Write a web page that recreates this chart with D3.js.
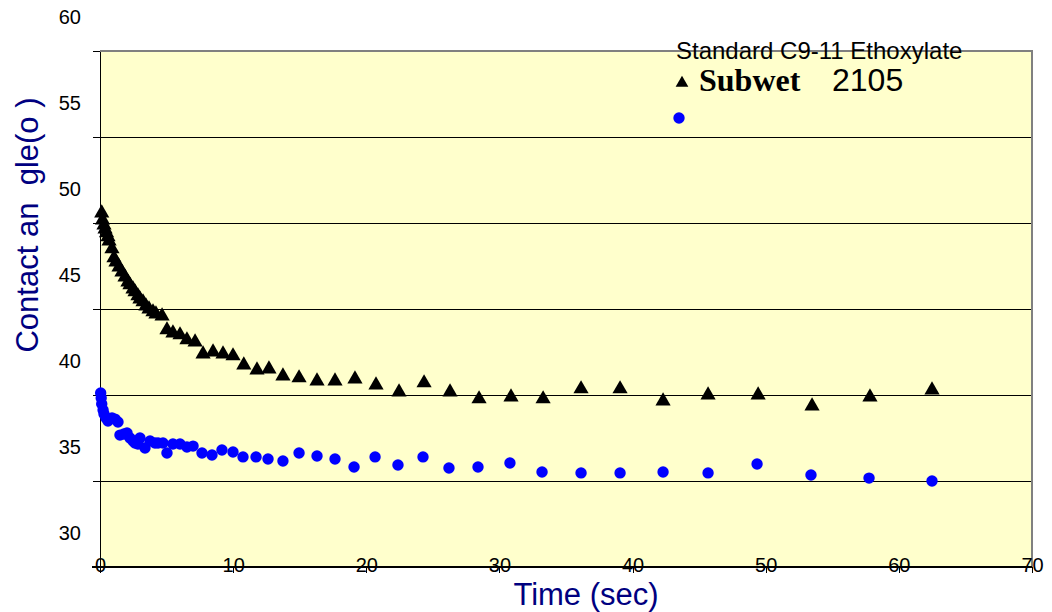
<!DOCTYPE html>
<html>
<head>
<meta charset="utf-8">
<script src="https://cdn.jsdelivr.net/npm/d3@7"></script>
<style>
  html, body { margin: 0; padding: 0; background: #fff; }
  svg { display: block; font-family: "Liberation Sans", Arial, sans-serif; }
</style>
</head>
<body>
<div id="chart"></div>
<script>
// Contact angle vs time, two surfactants.
var subwetTime = [0.13, 0.19, 0.3, 0.38, 0.49, 0.6, 0.68, 0.9, 1.05, 1.2, 1.43, 1.65, 1.88,
  2.1, 2.25, 2.48, 2.63, 2.85, 3.0, 3.23, 3.45, 3.68, 3.98, 4.2, 4.66, 5.03, 5.48, 6.01,
  6.53, 7.14, 7.74, 8.49, 9.24, 9.99, 10.8, 11.79, 12.69, 13.74, 14.95, 16.3, 17.65,
  19.15, 20.73, 22.46, 24.34, 26.29, 28.47, 30.87, 33.28, 36.13, 39.06, 42.29, 45.67,
  49.43, 53.48, 57.83, 62.49];
var subwetAngle = [50.58, 50.17, 49.88, 49.65, 49.42, 49.19, 48.95, 48.49, 47.97, 47.73,
  47.44, 47.15, 46.86, 46.57, 46.4, 46.16, 45.99, 45.76, 45.58, 45.41, 45.17, 45.0, 44.83,
  44.71, 44.59, 43.78, 43.6, 43.49, 43.2, 43.08, 42.38, 42.5, 42.38, 42.27, 41.74, 41.45,
  41.51, 41.1, 40.99, 40.81, 40.81, 40.93, 40.58, 40.17, 40.7, 40.17, 39.77, 39.88, 39.77,
  40.35, 40.35, 39.65, 40.0, 40.0, 39.36, 39.88, 40.29];

var stdTime = [0.05, 0.09, 0.13, 0.23, 0.3, 0.45, 0.6, 0.9, 1.13, 1.35, 1.5, 1.8, 2.03,
  2.25, 2.48, 2.63, 2.85, 3.0, 3.38, 3.76, 4.13, 4.36, 4.73, 5.03, 5.48, 6.01, 6.53, 6.99,
  7.66, 8.41, 9.16, 9.99, 10.74, 11.72, 12.62, 13.74, 14.95, 16.3, 17.65, 19.08, 20.66,
  22.38, 24.26, 26.21, 28.39, 30.79, 33.2, 36.13, 39.06, 42.29, 45.67, 49.35, 53.4,
  57.76, 62.49];
var stdAngle = [40.12, 39.83, 39.48, 39.13, 38.9, 38.66, 38.49, 38.66, 38.6, 38.43, 37.67,
  37.73, 37.79, 37.5, 37.33, 37.21, 37.15, 37.5, 36.92, 37.33, 37.21, 37.21, 37.21, 36.63,
  37.15, 37.15, 36.98, 37.03, 36.63, 36.51, 36.8, 36.69, 36.4, 36.4, 36.28, 36.16, 36.63,
  36.45, 36.28, 35.81, 36.4, 35.93, 36.4, 35.76, 35.81, 36.05, 35.52, 35.47, 35.47, 35.52,
  35.47, 35.99, 35.35, 35.17, 35.0];

var xTicks = [0, 10, 20, 30, 40, 50, 60, 70];
var yTicks = [30, 35, 40, 45, 50, 55, 60];
var legendTitle = "Standard C9-11 Ethoxylate";
var seriesName = "Subwet";
var seriesCode = "2105";

var W = 1052, H = 612;
var m = { left: 100, right: 20, top: 51, bottom: 45 };

var svg = d3.select("#chart").append("svg").attr("width", W).attr("height", H);

var x = d3.scaleLinear().domain([0, 70]).range([m.left, W - m.right]);
var y = d3.scaleLinear().domain([30, 60]).range([H - m.bottom, m.top]);

// plot area
svg.append("rect")
  .attr("x", x(0)).attr("y", y(60))
  .attr("width", x(70) - x(0)).attr("height", y(30) - y(60))
  .attr("fill", "#ffffcc");

// gridlines (interior ones black, frame top/right grey)
svg.append("g").attr("shape-rendering", "crispEdges").selectAll("line")
  .data(yTicks.filter(function (v) { return v > 30 && v < 60; }))
  .join("line")
  .attr("x1", x(0)).attr("x2", x(70))
  .attr("y1", function (d) { return y(d); }).attr("y2", function (d) { return y(d); })
  .attr("stroke", "#000").attr("stroke-width", 1);
svg.append("path")
  .attr("shape-rendering", "crispEdges")
  .attr("d", "M" + x(0) + "," + y(60) + "H" + x(70) + "V" + y(30))
  .attr("fill", "none").attr("stroke", "#808080").attr("stroke-width", 1.2);

// y axis: the labels sit well above their ticks, as in the original
var yAxis = svg.append("g")
  .attr("transform", "translate(" + x(0) + ",0)")
  .attr("shape-rendering", "crispEdges")
  .call(d3.axisLeft(y).tickValues(yTicks).tickSize(7).tickSizeOuter(0).tickPadding(12));
yAxis.select(".domain").attr("stroke", "#000").attr("stroke-width", 1.5);
yAxis.selectAll(".tick line").attr("stroke", "#000");
yAxis.selectAll(".tick text")
  .attr("y", -35).attr("dy", "0.35em")
  .attr("font-size", 20).attr("fill", "#000")
  .attr("font-family", "Liberation Sans, Arial, sans-serif");

// x axis: labels straddle the axis line
var xAxis = svg.append("g")
  .attr("transform", "translate(0," + y(30) + ")")
  .attr("shape-rendering", "crispEdges")
  .call(d3.axisBottom(x).tickValues(xTicks).tickSize(6).tickSizeOuter(0));
xAxis.select(".domain").attr("stroke", "#000").attr("stroke-width", 1.5)
  .attr("d", "M" + (x(0) - 8) + ",0H" + x(70));
xAxis.selectAll(".tick line").attr("stroke", "#000");
xAxis.selectAll(".tick text")
  .attr("y", 5).attr("dy", 0)
  .attr("font-size", 20).attr("fill", "#000")
  .attr("font-family", "Liberation Sans, Arial, sans-serif");

// axis titles
svg.append("text")
  .attr("x", (x(0) + x(70)) / 2 + 20).attr("y", 605)
  .attr("text-anchor", "middle")
  .attr("font-size", 31).attr("fill", "#000080")
  .text("Time (sec)");
svg.append("text")
  .attr("transform", "translate(38,225) rotate(-90)")
  .attr("text-anchor", "middle")
  .attr("font-size", 31).attr("fill", "#000080")
  .attr("xml:space", "preserve")
  .style("white-space", "pre")
  .text("Contact an  gle(o )");

// series
var tri = d3.symbol().type(d3.symbolTriangle).size(100);

svg.append("g").selectAll("circle")
  .data(d3.zip(stdTime, stdAngle))
  .join("circle")
  .attr("cx", function (d) { return x(d[0]); })
  .attr("cy", function (d) { return y(d[1]); })
  .attr("r", 5.7)
  .attr("fill", "#0000ff");

svg.append("g").selectAll("path")
  .data(d3.zip(subwetTime, subwetAngle))
  .join("path")
  .attr("d", tri)
  .attr("transform", function (d) { return "translate(" + x(d[0]) + "," + y(d[1]) + ")"; })
  .attr("fill", "#000");

// legend
var lg = svg.append("g").attr("transform", "translate(676,0)");
lg.append("text").attr("x", 0).attr("y", 59)
  .attr("font-size", 24).attr("fill", "#000").text(legendTitle);
lg.append("path").attr("d", d3.symbol().type(d3.symbolTriangle).size(70))
  .attr("transform", "translate(6,83)").attr("fill", "#000");
lg.append("text").attr("x", 23).attr("y", 91)
  .attr("font-family", "Liberation Serif, Times New Roman, serif")
  .attr("font-weight", "bold").attr("font-size", 32).attr("fill", "#000")
  .text(seriesName);
lg.append("text").attr("x", 156).attr("y", 91)
  .attr("font-size", 32).attr("fill", "#000").text(seriesCode);
lg.append("circle").attr("cx", 3).attr("cy", 118).attr("r", 5.7).attr("fill", "#0000ff");
</script>
</body>
</html>
